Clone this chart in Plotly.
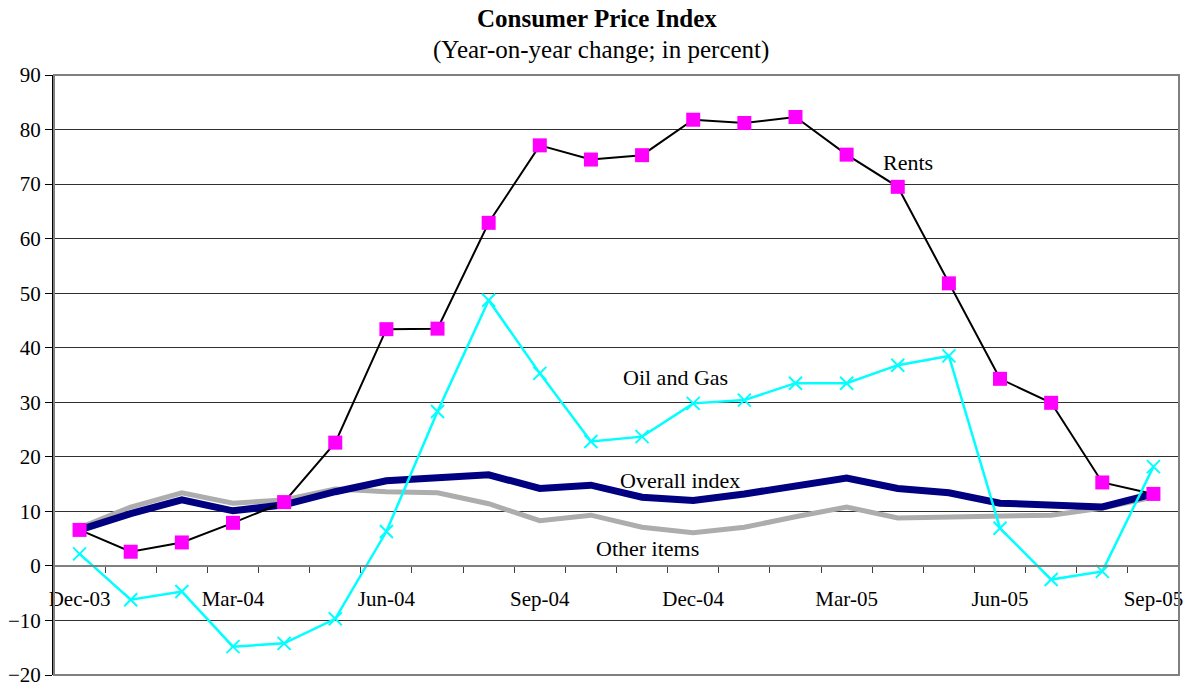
import plotly.graph_objects as go

months = ["Dec-03", "Jan-04", "Feb-04", "Mar-04", "Apr-04", "May-04", "Jun-04", "Jul-04",
          "Aug-04", "Sep-04", "Oct-04", "Nov-04", "Dec-04", "Jan-05", "Feb-05", "Mar-05",
          "Apr-05", "May-05", "Jun-05", "Jul-05", "Aug-05", "Sep-05"]

rents = [6.6, 2.6, 4.3, 7.9, 11.7, 22.6, 43.4, 43.5, 62.9, 77.1, 74.5, 75.3,
         81.8, 81.2, 82.3, 75.4, 69.5, 51.8, 34.3, 29.9, 15.3, 13.2]
oil_gas = [2.2, -6.2, -4.7, -14.8, -14.2, -9.7, 6.3, 28.3, 48.7, 35.3, 22.8, 23.7,
           29.8, 30.4, 33.5, 33.5, 36.8, 38.5, 6.9, -2.5, -1.0, 18.2]
overall = [6.6, 9.6, 12.1, 10.1, 11.2, 13.6, 15.6, 16.2, 16.7, 14.2, 14.8, 12.6,
           12.0, 13.2, 14.8, 16.1, 14.2, 13.4, 11.5, 11.1, 10.8, 13.2]
other = [7.0, 10.8, 13.4, 11.5, 12.1, 14.1, 13.6, 13.4, 11.4, 8.3, 9.3, 7.1,
         6.1, 7.1, 9.0, 10.8, 8.8, 8.9, 9.0, 9.3, 10.6, 12.6]

shown_labels = {"Dec-03", "Mar-04", "Jun-04", "Sep-04", "Dec-04", "Mar-05", "Jun-05", "Sep-05"}
tick_text = [m if m in shown_labels else "" for m in months]

y_min, y_max = -20, 90
FONT = "Liberation Serif, Times New Roman, serif"

fig = go.Figure()
fig.add_trace(go.Scatter(x=months, y=other, mode="lines", name="Other items",
                         line=dict(color="#ADADAD", width=5)))
fig.add_trace(go.Scatter(x=months, y=overall, mode="lines", name="Overall index",
                         line=dict(color="#000080", width=7)))
fig.add_trace(go.Scatter(x=months, y=rents, mode="lines+markers", name="Rents",
                         line=dict(color="black", width=2),
                         marker=dict(symbol="square", size=14, color="#FF00FF")))
fig.add_trace(go.Scatter(x=months, y=oil_gas, mode="lines+markers", name="Oil and Gas",
                         line=dict(color="#00FFFF", width=2.5),
                         marker=dict(symbol="x-thin", size=13,
                                     line=dict(color="#00FFFF", width=2))))

annots = [
    ("Rents", "Apr-05", 74.0, 10),
    ("Oil and Gas", "Nov-04", 34.5, 33),
    ("Overall index", "Nov-04", 15.7, 38),
    ("Other items", "Nov-04", 3.2, 5),
]
for text, xc, yc, xs in annots:
    fig.add_annotation(x=xc, y=yc, text=text, showarrow=False, xshift=xs,
                       font=dict(family=FONT, size=22, color="black"))

fig.add_annotation(xref="paper", yref="paper", x=0.5, y=1, yanchor="middle", yshift=57,
                   xanchor="center", xshift=-20,
                   text="<b>Consumer Price Index</b>", showarrow=False,
                   font=dict(family=FONT, size=25, color="black"))
fig.add_annotation(xref="paper", yref="paper", x=0.5, y=1, yanchor="middle", yshift=25,
                   xanchor="center", xshift=-16,
                   text="(Year-on-year change; in percent)", showarrow=False,
                   font=dict(family=FONT, size=25, color="black"))

# gray frame of plot area
fig.add_shape(type="rect", xref="paper", yref="paper", x0=0, x1=1, y0=0, y1=1,
              line=dict(color="#808080", width=2), layer="above")

fig.update_layout(
    width=1191, height=684,
    margin=dict(l=54, r=12, t=75, b=9, autoexpand=False),
    paper_bgcolor="white", plot_bgcolor="white",
    showlegend=False,
    font=dict(family=FONT, size=21, color="black"),
    xaxis=dict(
        type="category",
        tickmode="array", tickvals=months, ticktext=tick_text,
        tickson="boundaries", tickangle=0,
        ticks="outside", ticklen=6, tickcolor="#404040", tickwidth=1,
        ticklabelstandoff=14, ticklabeloverflow="allow",
        showgrid=False,
        showline=True, linecolor="#808080", linewidth=2,
        anchor="free", position=(0 - y_min) / (y_max - y_min),
        range=[-0.5, len(months) - 0.5],
        tickfont=dict(family=FONT, size=21, color="black"),
        zeroline=False, automargin=False,
    ),
    yaxis=dict(
        range=[y_min, y_max], dtick=10, tick0=0,
        ticks="outside", ticklen=7, tickcolor="black", tickwidth=1,
        ticklabeloverflow="allow",
        showgrid=True, gridcolor="#303030", gridwidth=1,
        showline=True, linecolor="black", linewidth=2,
        zeroline=False, automargin=False,
        tickfont=dict(family=FONT, size=21, color="black"),
    ),
)

fig.write_html("out.html", config={"displayModeBar": False},
               post_script="document.body.style.margin='0';document.body.style.overflow='hidden';")
